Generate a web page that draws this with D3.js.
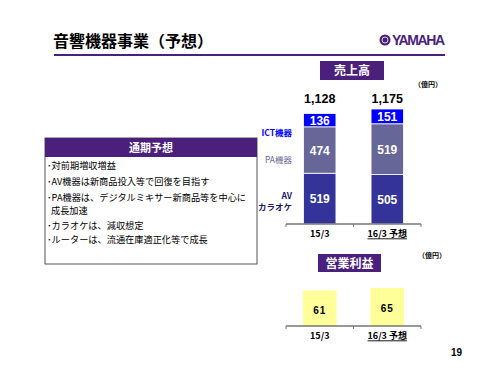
<!DOCTYPE html>
<html>
<head>
<meta charset="utf-8">
<script src="https://cdn.jsdelivr.net/npm/d3@7"></script>
<style>
body { margin: 0; background: #fff; }
svg { display: block; font-family: "Noto Sans CJK JP", "Liberation Sans", sans-serif; }
</style>
</head>
<body>
<svg width="500" height="375"></svg>
<script>
const periods = ['15/3', '16/3 予想']
const segments = ['AV', 'PA', 'ICT']
const avKaraoke = [519, 505]
const paSales = [474, 519]
const ictSales = [136, 151]
const salesTotals = ['1,128', '1,175']
const opProfit = [61, 65]
const bullets = [
	'･対前期増収増益',
	'･AV機器は新商品投入等で回復を目指す',
	'･PA機器は、デジタルミキサー新商品等を中心に',
	'成長加速',
	'･カラオケは、減収想定',
	'･ルーターは、流通在庫適正化等で成長'
]

const svg = d3.select('svg')
const purple = '#4b1f7c'
const segColor = { AV: '#333399', PA: '#666699', ICT: '#0000ff' }

// header
svg.append('text')
	.attr('x', 53).attr('y', 47)
	.attr('font-size', 16).attr('font-weight', 'bold')
	.text('音響機器事業（予想）')
svg.append('line')
	.attr('x1', 54).attr('x2', 445).attr('y1', 55).attr('y2', 55)
	.attr('stroke', purple).attr('stroke-width', 2)

// logo
const logo = svg.append('g').attr('transform', 'translate(385, 40)')
logo.append('circle').attr('r', 5.5).attr('fill', purple)
logo.append('circle').attr('r', 3).attr('fill', 'none').attr('stroke', '#fff').attr('stroke-width', 0.8)
logo.append('text')
	.attr('x', 7).attr('y', 5)
	.attr('font-family', 'Liberation Sans, Arial, sans-serif')
	.attr('font-size', 14).attr('font-weight', 'bold')
	.attr('fill', purple).attr('textLength', 53)
	.text('YAMAHA')

// left text box
svg.append('rect')
	.attr('x', 45).attr('y', 138).attr('width', 212).attr('height', 126)
	.attr('fill', '#fff').attr('stroke', '#555').attr('stroke-width', 1)
svg.append('rect')
	.attr('x', 45).attr('y', 138).attr('width', 212).attr('height', 19)
	.attr('fill', purple)
svg.append('text')
	.attr('x', 151).attr('y', 152)
	.attr('text-anchor', 'middle').attr('fill', '#fff')
	.attr('font-size', 11).attr('font-weight', 'bold')
	.text('通期予想')
svg.append('g').selectAll('text').data(bullets)
	.enter().append('text')
	.attr('x', (d, i) => i === 3 ? 51 : 47)
	.attr('y', (d, i) => [169, 185, 200.5, 214, 228.5, 243][i])
	.attr('font-size', 9.2)
	.text(d => d)

// title boxes
const titleBox = (x, y, w, h, label) => {
	svg.append('rect').attr('x', x).attr('y', y).attr('width', w).attr('height', h).attr('fill', purple)
	svg.append('text')
		.attr('x', x + w / 2).attr('y', y + h / 2 + 4.5)
		.attr('text-anchor', 'middle').attr('fill', '#fff')
		.attr('font-size', 12).attr('font-weight', 'bold')
		.text(label)
}
titleBox(320, 61, 64, 19, '売上高')
titleBox(318, 254, 63, 18, '営業利益')

const unit = (x, y) => svg.append('text')
	.attr('x', x).attr('y', y).attr('font-size', 7).attr('font-weight', 'bold')
	.text('（億円）')
unit(414, 87)
unit(418, 258)

// shared x
const x = d3.scaleBand().domain(periods).range([286, 421]).paddingInner(0.52).paddingOuter(0.26)

const drawAxis = y0 => {
	const ax = svg.append('g').attr('transform', `translate(0, ${y0})`)
	ax.append('line').attr('x1', 286).attr('x2', 421)
		.attr('stroke', '#777').attr('stroke-width', 1.5)
	ax.selectAll('line.tk').data([0, 1, 2]).enter().append('line')
		.attr('class', 'tk')
		.attr('x1', d => 286 + d * x.step()).attr('x2', d => 286 + d * x.step())
		.attr('y1', 0).attr('y2', 3)
		.attr('stroke', '#777').attr('stroke-width', 1)
	const lab = ax.append('g')
		.attr('transform', 'translate(0, 3)')
		.call(d3.axisBottom(x).tickSize(0).tickPadding(4))
	lab.select('.domain').remove()
	lab.selectAll('text')
		.attr('font-size', 9).attr('font-weight', 'bold').attr('fill', '#000')
		.attr('font-family', 'Noto Sans CJK JP, sans-serif')
		.attr('text-decoration', d => d === periods[1] ? 'underline' : null)
}

// sales stacked bars
const salesData = periods.map((p, i) => ({ period: p, AV: avKaraoke[i], PA: paSales[i], ICT: ictSales[i], total: salesTotals[i] }))
const stack = d3.stack().keys(segments)(salesData)
const ySales = d3.scaleLinear().domain([0, 1175]).range([224, 109])

const layers = svg.append('g').selectAll('g').data(stack).enter().append('g')
	.attr('fill', d => segColor[d.key])
layers.selectAll('rect').data(d => d).enter().append('rect')
	.attr('x', d => x(d.data.period))
	.attr('width', x.bandwidth())
	.attr('y', d => ySales(d[1]))
	.attr('height', d => ySales(d[0]) - ySales(d[1]))
	.attr('stroke', '#fff').attr('stroke-width', 0.8)
layers.selectAll('text').data(d => d.map(v => Object.assign({ key: d.key }, v))).enter().append('text')
	.attr('x', d => x(d.data.period) + x.bandwidth() / 2)
	.attr('y', d => (ySales(d[0]) + ySales(d[1])) / 2 + 4.5)
	.attr('text-anchor', 'middle').attr('fill', '#fff')
	.attr('font-family', 'Liberation Sans, Arial, sans-serif')
	.attr('font-size', 12).attr('font-weight', 'bold')
	.text(d => d.data[d.key])

svg.append('g').selectAll('text').data(salesData).enter().append('text')
	.attr('x', d => x(d.period) + x.bandwidth() / 2)
	.attr('y', 103)
	.attr('text-anchor', 'middle')
	.attr('font-family', 'Liberation Sans, Arial, sans-serif')
	.attr('font-size', 12.5).attr('font-weight', 'bold')
	.text(d => d.total)

drawAxis(224)

// legend labels
const legend = [
	{ lines: ['ICT機器'], y: 136, color: '#0000ff' },
	{ lines: ['PA機器'], y: 163, color: '#666699' },
	{ lines: ['AV', 'カラオケ'], y: 199, color: '#1a1a66' }
]
legend.forEach(l => {
	l.lines.forEach((t, j) => {
		svg.append('text')
			.attr('x', 292).attr('y', l.y + j * 11)
			.attr('text-anchor', 'end').attr('fill', l.color)
			.attr('font-size', 8.5).attr('font-weight', l.lines.length > 1 || l.lines[0] === 'ICT機器' ? 'bold' : 'normal')
			.text(t)
	})
})

// operating profit
const yProfit = d3.scaleLinear().domain([0, 65]).range([326, 288])
const profitData = periods.map((p, i) => ({ period: p, value: opProfit[i] }))
const xp = x.copy().paddingInner(0.5).paddingOuter(0.25)
svg.append('g').selectAll('rect').data(profitData).enter().append('rect')
	.attr('x', d => xp(d.period))
	.attr('width', xp.bandwidth())
	.attr('y', d => yProfit(d.value))
	.attr('height', d => yProfit(0) - yProfit(d.value))
	.attr('fill', '#ffff99')
svg.append('g').selectAll('text').data(profitData).enter().append('text')
	.attr('x', d => xp(d.period) + xp.bandwidth() / 2)
	.attr('y', (d, i) => i === 0 ? 314 : 312)
	.attr('text-anchor', 'middle')
	.attr('font-family', 'Liberation Sans, Arial, sans-serif')
	.attr('font-size', 10).attr('font-weight', 'bold')
	.attr('letter-spacing', 1)
	.text(d => d.value)

drawAxis(326)

svg.append('text')
	.attr('x', 451).attr('y', 356)
	.attr('font-family', 'Liberation Sans, Arial, sans-serif')
	.attr('font-size', 10).attr('font-weight', 'bold')
	.text('19')
</script>
</body>
</html>
